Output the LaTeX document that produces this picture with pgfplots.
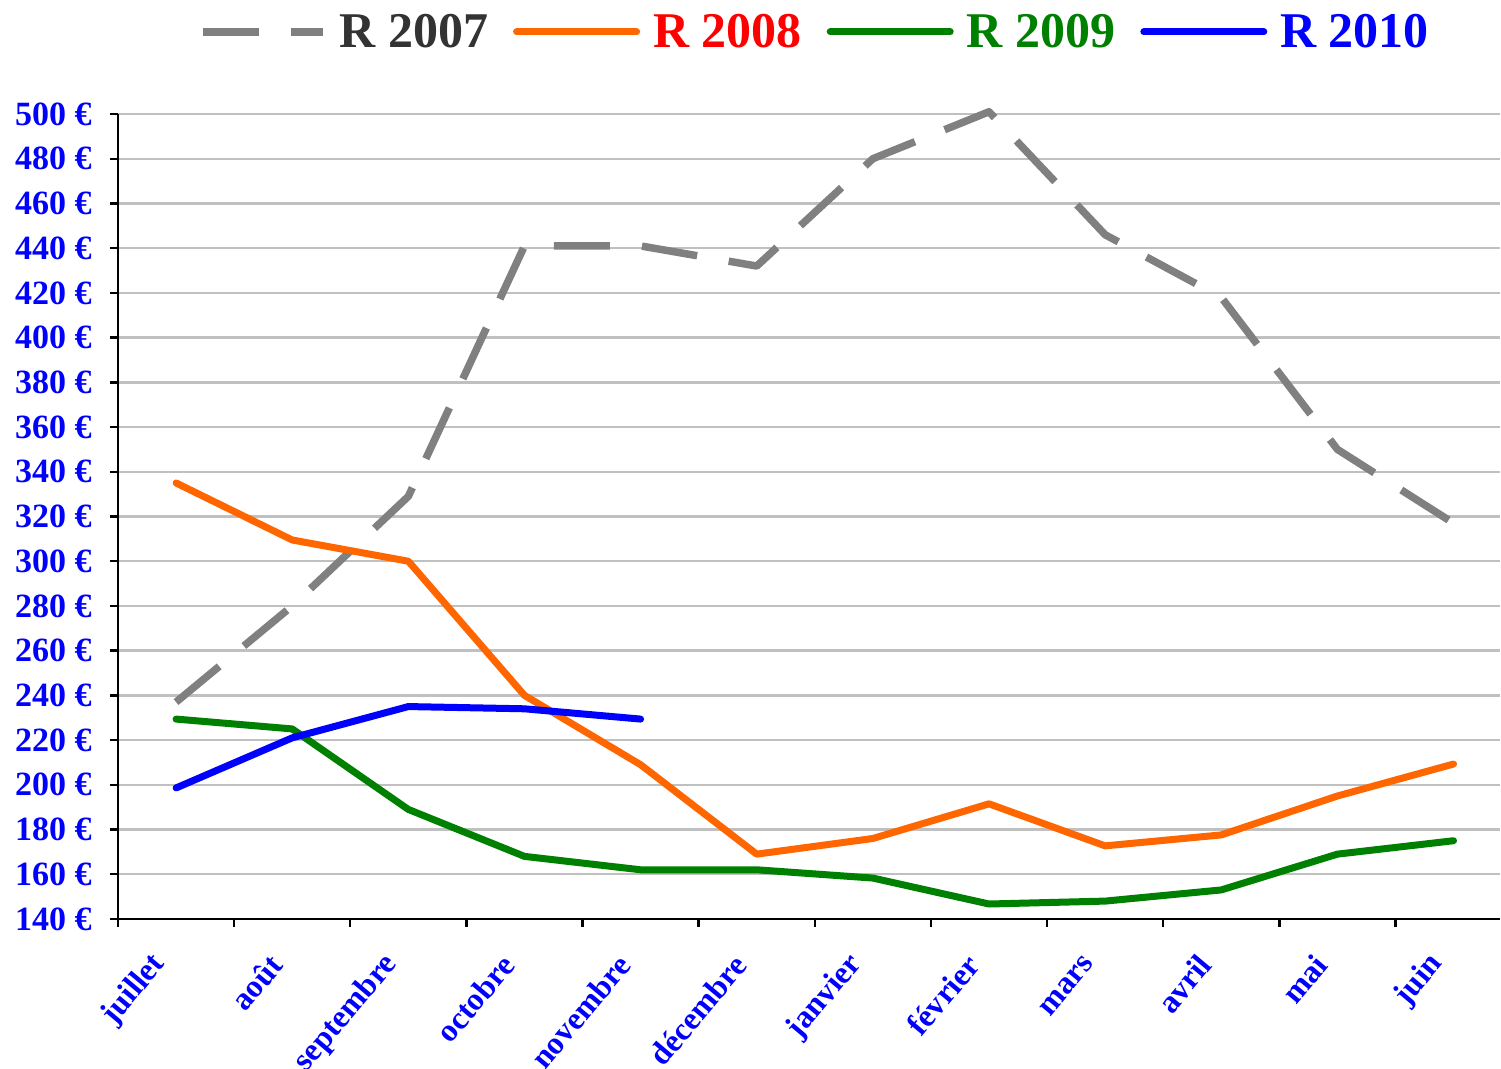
\documentclass[border=0pt]{standalone}
\usepackage{pgfplots}
\pgfplotsset{compat=1.18}
\usepackage{fontspec}
\setmainfont{Liberation Serif}
\definecolor{cgray}{HTML}{808080}
\definecolor{corange}{HTML}{FF6600}
\definecolor{cgreen}{HTML}{008000}
\definecolor{cblue}{HTML}{0000FF}
\definecolor{cdark}{HTML}{333333}
\definecolor{cgrid}{HTML}{C0C0C0}
\begin{document}
\begin{tikzpicture}
\path[use as bounding box] (-59pt,-75pt) rectangle (691.5pt,459.5pt);
\begin{axis}[
  at={(0,0)}, anchor=south west,
  scale only axis, width=691pt, height=402.5pt,
  xmin=-0.5, xmax=11.4, ymin=140, ymax=500,
  clip=false,
  axis x line*=bottom, axis y line*=left,
  axis line style={-, black, line width=1.2pt},
  tick align=outside,
  major tick length=4pt, minor tick length=4pt,
  every tick/.style={black, line width=1.2pt},
  xtick={0,...,11},
  major x tick style={draw=none},
  minor xtick={-0.5,0.5,...,10.5},
  xticklabels={juillet,août,septembre,octobre,novembre,décembre,janvier,février,mars,avril,mai,juin},
  xticklabel style={font=\fontsize{16}{19}\selectfont\bfseries, text=cblue, inner sep=0pt, xshift=-8pt, yshift=-16pt, rotate=50, anchor=east},
  ytick={140,160,...,500},
  yticklabels={140 €,160 €,180 €,200 €,220 €,240 €,260 €,280 €,300 €,320 €,340 €,360 €,380 €,400 €,420 €,440 €,460 €,480 €,500 €},
  yticklabel style={font=\fontsize{17}{20}\selectfont\bfseries, text=cblue, inner sep=0pt, xshift=-9pt},
  ymajorgrids,
  grid style={cgrid, line width=1.2pt},
  legend columns=4,
  legend style={draw=none, fill=none, at={(0.5036,1.102)}, anchor=center,
    font=\fontsize{25}{28}\selectfont\bfseries,
    nodes={inner sep=0pt},
    /tikz/every odd column/.append style={column sep=6.5pt},
    /tikz/every even column/.append style={column sep=12.5pt}},
  legend image code/.code={\draw[#1] (0pt,0pt) -- (60pt,0pt);},
]
\addplot[cgray, line width=3.75pt, dash pattern=on 28pt off 16pt, line join=round] coordinates {
(0,237) (1,280) (2,329) (3,441) (4,441) (5,432) (6,480) (7,501) (8,446) (9,418) (10,350) (11,317)};
\addlegendentry{\textcolor{cdark}{R 2007}}
\addplot[corange, line width=3.5pt, line cap=round, line join=round] coordinates {
(0,335) (1,309.5) (2,300) (3,240) (4,209) (5,169) (6,176) (7,191.5) (8,172.7) (9,177.6) (10,195) (11,209.3)};
\addlegendentry{\textcolor{red}{R 2008}}
\addplot[cgreen, line width=3.5pt, line cap=round, line join=round] coordinates {
(0,229.4) (1,225) (2,189) (3,168) (4,162) (5,162) (6,158.3) (7,146.7) (8,148) (9,153) (10,169) (11,175)};
\addlegendentry{\textcolor{cgreen}{R 2009}}
\addplot[cblue, line width=3.5pt, line cap=round, line join=round] coordinates {
(0,198.6) (1,221) (2,235) (3,234) (4,229.4)};
\addlegendentry{\textcolor{cblue}{R 2010}}
\end{axis}
\end{tikzpicture}
\end{document}
